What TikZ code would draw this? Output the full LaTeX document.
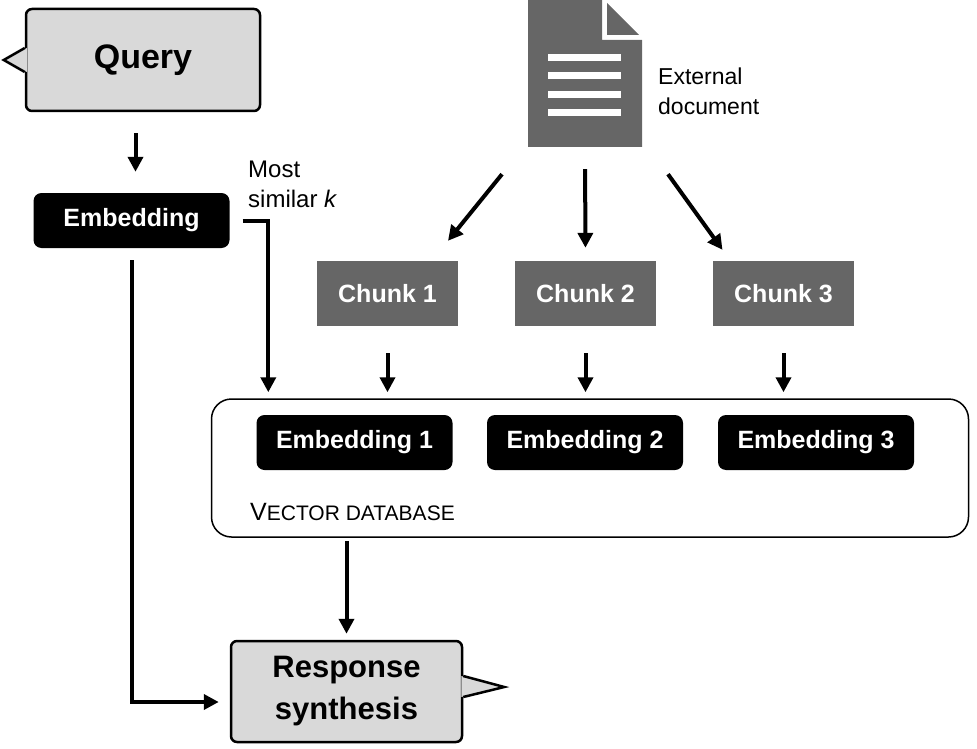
\documentclass[tikz,border=0pt]{standalone}
\usepackage{fontspec}
\setmainfont{Liberation Sans}
\usetikzlibrary{arrows.meta,calc}
\definecolor{bubblegray}{HTML}{D9D9D9}
\definecolor{chunkgray}{HTML}{666666}
\tikzstyle{bubble}=[rectangle, draw, fill=bubblegray, line width=2.5pt, rounded corners=6pt, inner sep=0pt, align=center]
\tikzstyle{embed}=[rectangle, fill=black, text=white, rounded corners=8pt, inner sep=0pt, minimum width=196pt, minimum height=55pt, font=\bfseries\fontsize{25}{30}\selectfont]
\tikzstyle{chunk}=[rectangle, fill=chunkgray, text=white, inner sep=0pt, minimum width=141pt, minimum height=65pt, font=\bfseries\fontsize{25}{30}\selectfont]
\tikzstyle{flow}=[line width=4pt, -{Triangle[length=15pt, width=15pt]}]
\tikzstyle{note}=[anchor=base west, inner sep=0pt, align=left, font=\fontsize{24}{30}\selectfont]

\begin{document}
\begin{tikzpicture}[x=1pt, y=-1pt]
    \useasboundingbox (0,0) rectangle (977,749);

    % query side
    \node[bubble, minimum width=234pt, minimum height=102pt, font=\bfseries\fontsize{34}{40}\selectfont] (q) at (143,60) {Query};
    \fill[bubblegray] ([shift={(2pt,12pt)}]q.west) -- ([xshift=-21pt]q.west) -- ([shift={(2pt,-12pt)}]q.west) -- cycle;
    \draw[line width=2.5pt, line join=miter] ([yshift=12pt]q.west) -- ([xshift=-21pt]q.west) -- ([yshift=-12pt]q.west);
    \node[embed] (e0) at (131.5,220.5) {Embedding};
    \node[note] (msk) at (248,207) {Most\\similar \textit{k}};

    % external document
    \node[minimum width=114pt, minimum height=147pt, inner sep=0pt] (doc) at (585,73.5) {};
    \fill[chunkgray] (528,0) -- (602,0) -- (602,40) -- (642,40) -- (642,147) -- (528,147) -- cycle;
    \fill[chunkgray] (607,3) -- (607,35) -- (639,35) -- cycle;
    \foreach \y in {58,76,94.5,112.5}
        \fill[white] (548,\y-3.5) rectangle (621,\y+3.5);
    \node[note, font=\fontsize{23}{30}\selectfont] (doclabel) at (658,115) {External\\document};

    % chunks
    \node[chunk] (chunk1) at (387.5,293.5) {Chunk 1};
    \node[chunk] (chunk2) at (585.5,293.5) {Chunk 2};
    \node[chunk] (chunk3) at (783.5,293.5) {Chunk 3};

    % vector database
    \node[draw, line width=1.5pt, rounded corners=20pt, minimum width=757pt, minimum height=138pt] (db) at (590,468) {};
    \node[embed] (emb1) at (354.5,442.5) {Embedding 1};
    \node[embed] (emb2) at (585,442.5) {Embedding 2};
    \node[embed] (emb3) at (816,442.5) {Embedding 3};
    \node[anchor=base west, inner sep=0pt] (dblabel) at (250,520)
        {\fontsize{25}{30}\selectfont V\fontsize{21}{30}\selectfont ECTOR DATABASE};

    % response
    \node[bubble, minimum width=231pt, minimum height=101pt, font=\bfseries\fontsize{31}{42}\selectfont] (resp) at (346.5,691.5) {Response\\synthesis};
    \fill[bubblegray] ([shift={(-2pt,15.5pt)}]resp.east) -- ([shift={(41pt,4.5pt)}]resp.east) -- ([shift={(-2pt,-5.5pt)}]resp.east) -- cycle;
    \draw[line width=2.5pt, line join=miter] ([yshift=15.5pt]resp.east) -- ([shift={(41pt,4.5pt)}]resp.east) -- ([yshift=-5.5pt]resp.east);

    % connectors
    \draw[flow, shorten <=21pt, shorten >=21pt] ([xshift=4pt]e0.north |- q.south) -- ([xshift=4pt]e0.north);
    \draw[flow, shorten <=13pt, shorten >=6pt] (e0.east) -| ($(emb1.west |- db.north)+(12,0)$);
    \draw[flow, shorten <=12pt, shorten >=11pt] (e0.south) |- ([yshift=-10.5pt]resp.west);
    \draw[flow] ($(doc.south)+(-83,27)$) -- ($(chunk1.north)+(60.5,-20)$);
    \draw[flow, shorten <=22pt, shorten >=13pt] (doc.south) -- (chunk2.north);
    \draw[flow] ($(doc.south)+(83,27)$) -- ($(chunk3.north)+(-61,-11)$);
    \foreach \c in {chunk1,chunk2,chunk3}
        \draw[flow, shorten <=27pt, shorten >=6pt] (\c.south) -- (\c.south |- db.north);
    \draw[flow, shorten <=3pt, shorten >=6pt] (db.south -| resp.north) -- (resp.north);
\end{tikzpicture}
\end{document}
